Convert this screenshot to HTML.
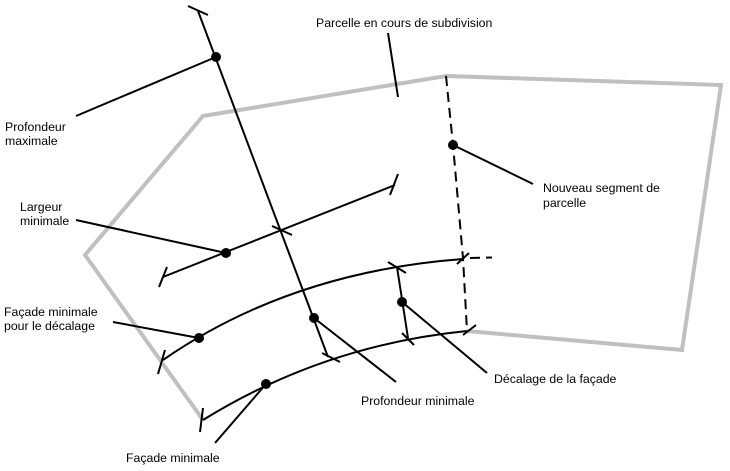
<!DOCTYPE html>
<html><head><meta charset="utf-8"><style>
html,body{margin:0;padding:0;background:#fff;}
svg{display:block;}
text{font-family:"Liberation Sans",Arial,sans-serif;font-size:12.3px;fill:#000;}
</style></head><body>
<svg width="730" height="471" viewBox="0 0 730 471" xmlns="http://www.w3.org/2000/svg">
<!-- parcel outline -->
<polyline points="203,420 85,255 203,116 446,76 721,85 682,350 467,331" fill="none" stroke="#c0c0c0" stroke-width="4" stroke-linejoin="miter"/>

<g stroke="#000" stroke-width="2" fill="none" stroke-linecap="butt">
<!-- dashed new segment -->
<polyline points="446,76 453,145 463,258 467,331" stroke-dasharray="10,6"/>
<line x1="470" y1="258" x2="492" y2="257.5" stroke-dasharray="10,6"/>

<!-- depth line -->
<line x1="198" y1="11" x2="328" y2="357"/>
<line x1="188" y1="6" x2="208" y2="15"/>
<line x1="322" y1="353" x2="340" y2="362"/>

<!-- width line -->
<line x1="163" y1="277" x2="395" y2="185"/>
<line x1="167" y1="267" x2="159" y2="287"/>
<line x1="398" y1="174" x2="390" y2="195"/>
<line x1="272" y1="226" x2="292" y2="235"/>

<!-- upper curve -->
<path d="M163,360 Q290,272 463,259"/>
<line x1="165" y1="350" x2="158" y2="374"/>
<line x1="388" y1="262" x2="406" y2="273"/>
<line x1="457" y1="264" x2="469" y2="253"/>

<!-- lower curve -->
<path d="M203,420 Q323.5,345.3 467,331"/>
<line x1="203" y1="408" x2="200" y2="432"/>
<line x1="402" y1="333" x2="414" y2="345"/>
<line x1="463" y1="335" x2="476" y2="325"/>

<!-- offset line -->
<line x1="397" y1="267" x2="408" y2="338"/>

<!-- leaders -->
<line x1="216" y1="57" x2="76" y2="116"/>
<line x1="226" y1="253" x2="76" y2="220"/>
<line x1="199" y1="338" x2="113" y2="322"/>
<line x1="266" y1="384" x2="215" y2="443"/>
<line x1="314" y1="318" x2="396" y2="382"/>
<line x1="402" y1="302" x2="487" y2="373"/>
<line x1="453" y1="145" x2="533" y2="184"/>
<line x1="388" y1="33" x2="398" y2="97"/>
</g>

<!-- dots -->
<g fill="#000">
<circle cx="216" cy="57" r="5"/>
<circle cx="226" cy="253" r="5"/>
<circle cx="199" cy="338" r="5"/>
<circle cx="266" cy="384" r="5"/>
<circle cx="314" cy="318" r="5"/>
<circle cx="402" cy="302" r="5"/>
<circle cx="453" cy="145" r="5"/>
</g>

<!-- labels -->
<text x="316" y="27">Parcelle en cours de subdivision</text>
<text x="5" y="131">Profondeur</text>
<text x="5" y="145">maximale</text>
<text x="20" y="211">Largeur</text>
<text x="20" y="225">minimale</text>
<text x="4" y="316">Façade minimale</text>
<text x="4" y="330">pour le décalage</text>
<text x="126" y="462">Façade minimale</text>
<text x="361" y="405">Profondeur minimale</text>
<text x="494" y="383">Décalage de la façade</text>
<text x="543" y="192">Nouveau segment de</text>
<text x="543" y="207">parcelle</text>
</svg>
</body></html>
